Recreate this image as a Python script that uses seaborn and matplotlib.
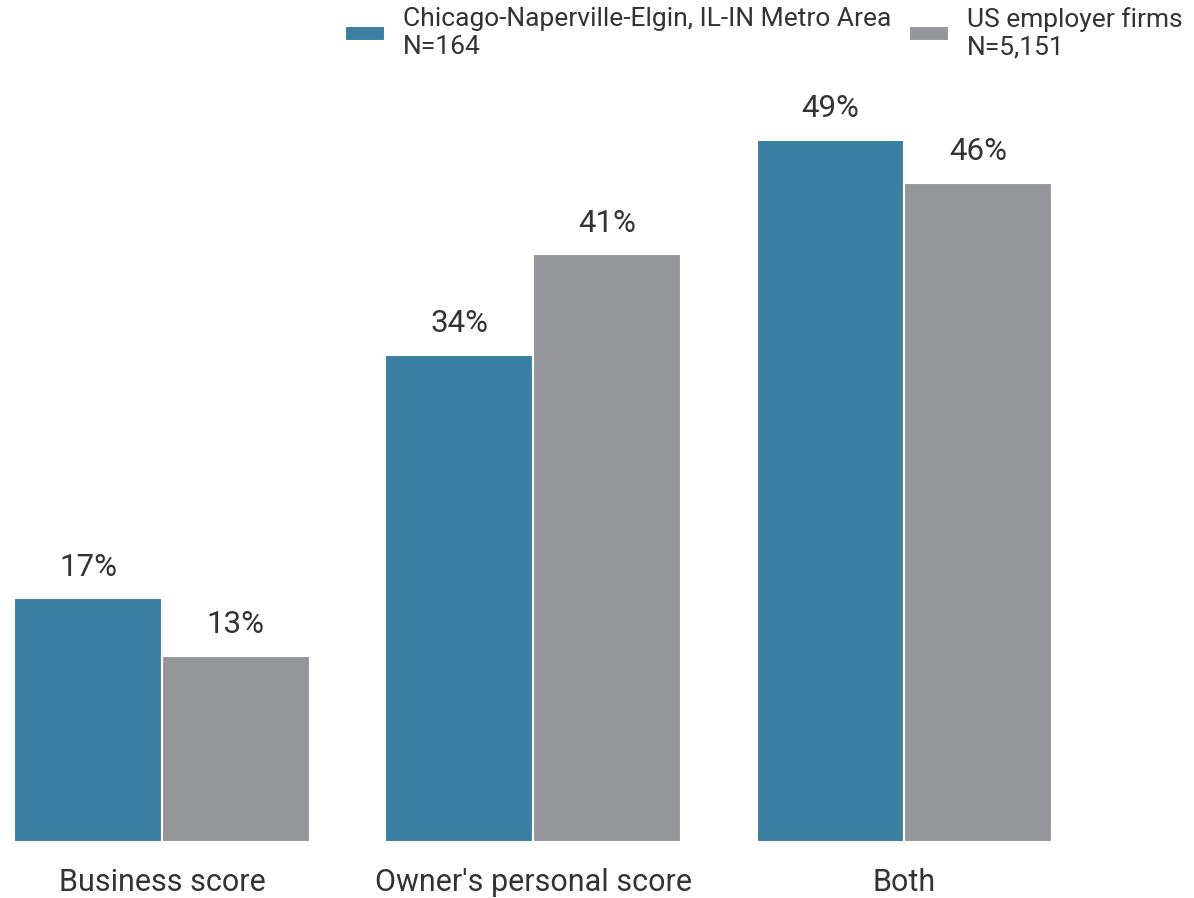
import pandas as pd
import matplotlib
matplotlib.use('Agg')
import matplotlib.pyplot as plt
import seaborn as sns

categories = ["Business score", "Owner's personal score", "Both"]
series_names = ['Chicago-Naperville-Elgin, IL-IN Metro Area\nN=164', 'US employer firms\nN=5,151']
chicago = [17, 34, 49]
us_firms = [13, 41, 46]
colors = ['#3a7ea1', '#959699']


def main():
    df = pd.DataFrame({
        'category': categories * 2,
        'value': chicago + us_firms,
        'series': [series_names[0]] * 3 + [series_names[1]] * 3,
    })

    sns.set_style('white')
    plt.rcParams['font.family'] = ['Roboto', 'DejaVu Sans']

    fig = plt.figure(figsize=(11.94, 8.98), dpi=100)
    ax = fig.add_axes([15 / 1194, 56 / 898, 1 - 15 / 1194, (842 - 100) / 898])

    sns.barplot(data=df, x='category', y='value', hue='series', palette=colors,
                saturation=1, width=0.796, edgecolor='white', linewidth=1.5, ax=ax, legend=True)

    ax.set_xlim(-0.396, 2.78)
    ax.set_ylim(0, 742 / 14.33)

    for container in ax.containers:
        ax.bar_label(container, labels=['{}%'.format(int(v)) for v in container.datavalues],
                     padding=12, fontsize=22.5, color='#333333')

    ax.set_xlabel('')
    ax.set_ylabel('')
    ax.set_yticks([])
    ax.tick_params(axis='x', length=0, labelsize=22, labelcolor='#333333', pad=19)
    for s in ax.spines.values():
        s.set_visible(False)

    handles, labels = ax.get_legend_handles_labels()
    ax.get_legend().remove()
    fig.legend(handles, labels, loc='upper left', bbox_to_anchor=(345 / 1194, 1 - 7 / 898),
               ncol=2, frameon=False, fontsize=19, labelcolor='#333333',
               handlelength=1.5, handleheight=0.45, handletextpad=0.68, columnspacing=0.7,
               borderpad=0, borderaxespad=0, labelspacing=0.2)

    fig.savefig('out.png', dpi=100)


if __name__ == '__main__':
    main()
